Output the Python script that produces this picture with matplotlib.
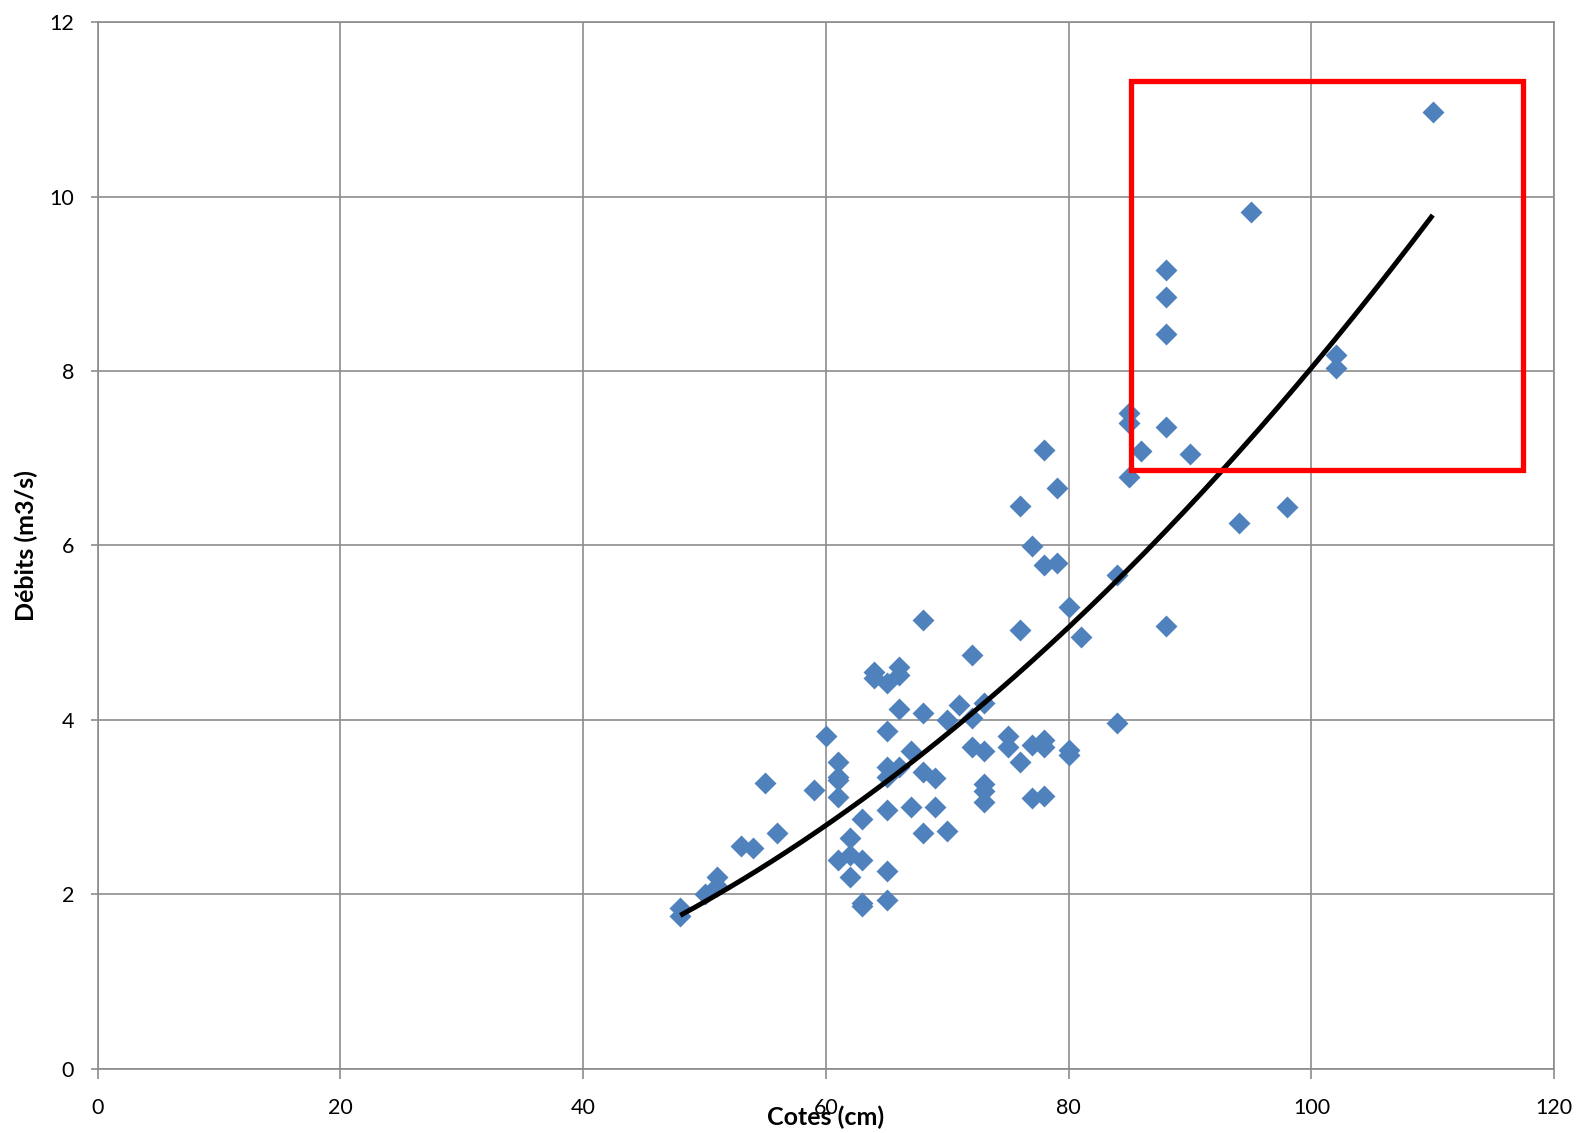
import numpy as np
import matplotlib
matplotlib.use("Agg")
import matplotlib.pyplot as plt
from matplotlib.patches import Rectangle

# Cotes (cm) and débits (m3/s)
cotes = [48, 48, 50, 51, 51, 53, 54, 55, 56, 59, 60,
         61, 61, 61, 61, 61, 62, 62, 62, 63, 63, 63, 63,
         64, 64, 65, 65, 65, 65, 65, 65, 65, 66, 66, 66, 66,
         67, 67, 68, 68, 68, 68, 69, 69, 70, 70, 71,
         72, 72, 72, 73, 73, 73, 73, 73, 75, 75,
         76, 76, 76, 77, 77, 77, 78, 78, 78, 78, 78,
         79, 79, 80, 80, 80, 81, 84, 84,
         85, 85, 85, 86, 88, 88, 88, 88, 88, 90,
         94, 95, 98, 102, 102, 110]
debits = [1.84, 1.75, 2.00, 2.10, 2.20, 2.55, 2.53, 3.28, 2.70, 3.19, 3.81,
          3.52, 3.35, 3.31, 3.11, 2.39, 2.64, 2.45, 2.20, 2.86, 2.39, 1.90, 1.86,
          4.55, 4.48, 4.42, 3.87, 3.46, 3.35, 2.97, 2.27, 1.93, 4.61, 4.52, 4.13, 3.46,
          3.64, 3.00, 5.15, 4.08, 3.40, 2.70, 3.33, 3.00, 4.00, 2.72, 4.17,
          4.74, 4.02, 3.69, 4.19, 3.64, 3.27, 3.18, 3.06, 3.81, 3.69,
          6.45, 5.03, 3.52, 5.99, 3.71, 3.10, 7.10, 5.78, 3.77, 3.69, 3.13,
          6.66, 5.80, 5.30, 3.65, 3.60, 4.95, 5.66, 3.96,
          7.52, 7.40, 6.79, 7.08, 9.16, 8.85, 8.43, 7.36, 5.08, 7.05,
          6.26, 9.82, 6.44, 8.19, 8.03, 10.97]

x_ticks = [0, 20, 40, 60, 80, 100, 120]
y_ticks = [0, 2, 4, 6, 8, 10, 12]

# highlighted zone (data units)
zone_x = (85.1, 117.4)
zone_y = (6.87, 11.33)

plt.rcParams['font.family'] = ['Lato', 'DejaVu Sans']

fig = plt.figure(figsize=(15.81, 11.33), dpi=100)
ax = fig.add_axes([0.0618, 0.0568, 0.9212, 0.9235])

x = np.array(cotes, dtype=float)
y = np.array(debits, dtype=float)

ax.scatter(x, y, marker='D', s=125, color='#4F81BD', linewidths=0, zorder=3)

# power trend line (like Excel's) fitted on the points
b, log_a = np.polyfit(np.log(x), np.log(y), 1)
xs = np.linspace(x.min(), x.max(), 200)
ax.plot(xs, np.exp(log_a) * xs ** b, color='black', lw=3.6, zorder=4,
        solid_capstyle='butt')

ax.add_patch(Rectangle((zone_x[0], zone_y[0]), zone_x[1] - zone_x[0],
                       zone_y[1] - zone_y[0], fill=False, edgecolor='#FF0000',
                       lw=3.8, zorder=5, joinstyle='miter'))

ax.set_xlim(0, 120)
ax.set_ylim(0, 12)
ax.set_xticks(x_ticks)
ax.set_yticks(y_ticks)
ax.grid(True, color='#8C8C8C', lw=1.2)
ax.set_axisbelow(True)
for s in ax.spines.values():
    s.set_color('#8C8C8C')
    s.set_linewidth(1.2)
ax.tick_params(axis='x', length=7, color='#8C8C8C', width=1.2, labelsize=15.5, pad=14)
ax.tick_params(axis='y', length=5, color='#8C8C8C', width=1.2, labelsize=15.5, pad=12)

ax.set_xlabel('Cotes (cm)', fontsize=18, fontweight='bold')
ax.xaxis.set_label_coords(0.5, -0.035)
ax.set_ylabel('Débits (m3/s)', fontsize=18, fontweight='bold')
ax.yaxis.set_label_coords(-0.041, 0.5)

fig.savefig('out.png', dpi=100)
